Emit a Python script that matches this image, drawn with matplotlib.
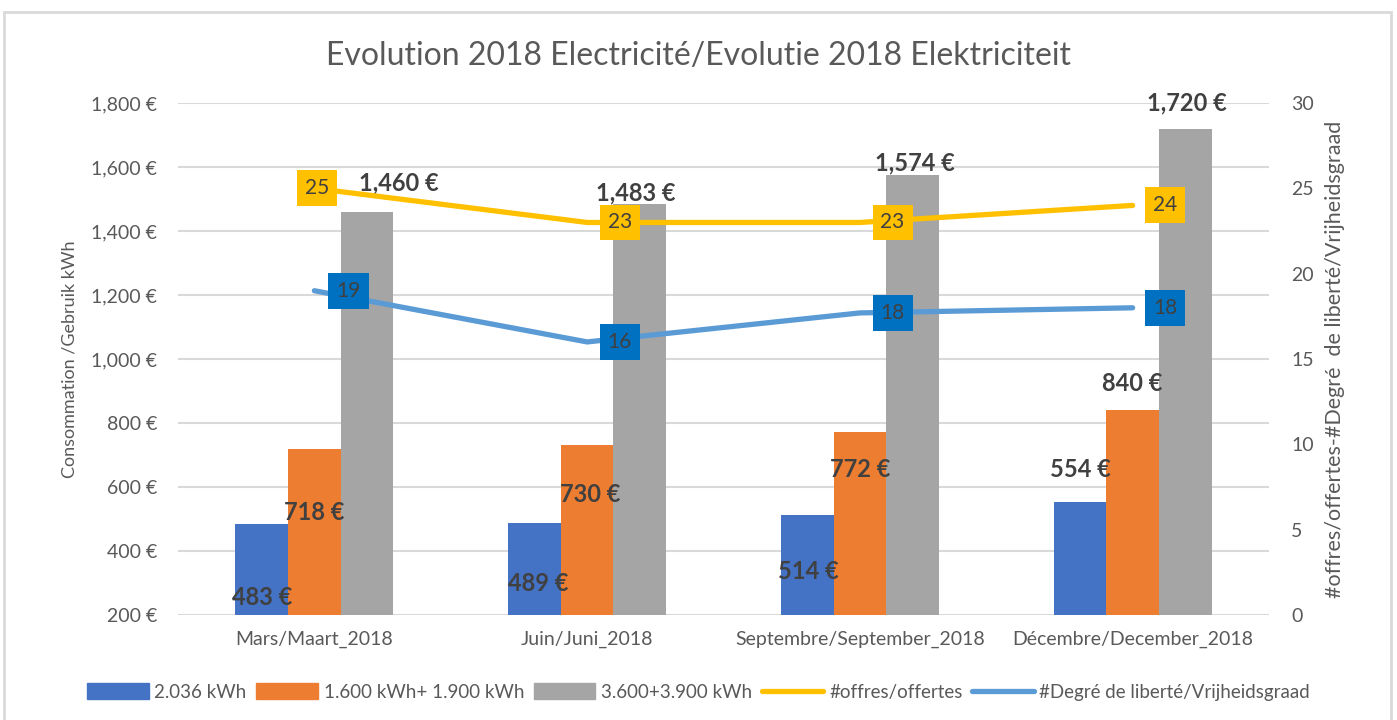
import numpy as np
import matplotlib
matplotlib.use("Agg")
import matplotlib.pyplot as plt
from matplotlib.patches import Rectangle, Patch
from matplotlib.lines import Line2D

plt.rcParams['font.family'] = ['Lato', 'DejaVu Sans']

# data
months = ['Mars/Maart_2018', 'Juin/Juni_2018', 'Septembre/September_2018',
          'Décembre/December_2018']
small = [483, 489, 514, 554]          # 2.036 kWh
medium = [718, 730, 772, 840]         # 1.600 kWh+ 1.900 kWh
large = [1460, 1483, 1574, 1720]      # 3.600+3.900 kWh
offres = [25, 23, 23, 24]             # #offres/offertes
degre = [19, 16, 17.7, 18]            # #Degré de liberté/Vrijheidsgraad

bar_names = ['2.036 kWh', '1.600 kWh+ 1.900 kWh', '3.600+3.900 kWh']
line_names = ['#offres/offertes', '#Degré de liberté/Vrijheidsgraad']

c_blue, c_orange, c_gray = '#4472C4', '#ED7D31', '#A5A5A5'
c_yellow, c_lblue, c_box = '#FFC000', '#5B9BD5', '#0070C0'
txt = '#404040'
tick_c = '#595959'

fig = plt.figure(figsize=(13.97, 7.2), dpi=100)
fig.patches.append(Rectangle((0.003, -0.01), 0.993, 0.9935, transform=fig.transFigure,
                             fill=False, edgecolor='#D9D9D9', lw=2))
ax = fig.add_axes([178 / 1397, 1 - 615 / 720, (1269 - 178) / 1397, (615 - 103) / 720])
ax2 = ax.twinx()

x = np.arange(len(months))
w = 0.193
ax.bar(x - w, small, w, bottom=0, color=c_blue, zorder=2)
ax.bar(x, medium, w, color=c_orange, zorder=2)
ax.bar(x + w, large, w, color=c_gray, zorder=2)

ax.set_ylim(200, 1800)
ax.set_xlim(-0.5, 3.5)
ax.set_yticks(np.arange(200, 1801, 200))
ax.yaxis.set_major_formatter(plt.FuncFormatter(lambda v, p: f'{v:,.0f} €'))
ax.grid(axis='y', color='#D9D9D9', lw=1.5, zorder=0)
ax.set_axisbelow(True)
ax.set_xticks(x)
ax.set_xticklabels(months)
for s in ax.spines.values():
    s.set_visible(False)
for s in ax2.spines.values():
    s.set_visible(False)
ax.tick_params(axis='y', length=0, pad=15, labelsize=14, labelcolor=tick_c)
ax.tick_params(axis='x', length=0, pad=11, labelsize=14, labelcolor=tick_c)
ax.set_ylabel('Consommation /Gebruik kWh', fontsize=13, color=tick_c, labelpad=10)

# bar value labels (x offset from category, y in euro units) as placed in the original
bar_lbl_pos = [
    [(-0.19, 256), (0.0, 519), (0.31, 1550)],
    [(-0.18, 297), (0.01, 578), (0.18, 1519)],
    [(-0.19, 337), (0.0, 656), (0.2, 1612)],
    [(-0.19, 656), (0.0, 922), (0.2, 1800)],
]
for i in range(len(months)):
    for j, vals in enumerate([small, medium, large]):
        dx, yy = bar_lbl_pos[i][j]
        ax.text(i + dx, yy, f'{vals[i]:,} €', ha='center', va='center',
                fontsize=17, fontweight='bold', color=txt, zorder=6)

ax2.set_ylim(0, 30)
ax2.set_yticks(np.arange(0, 31, 5))
ax2.tick_params(axis='y', length=0, pad=16, labelsize=14, labelcolor=tick_c)
ax2.set_ylabel('#offres/offertes-#Degré  de liberté/Vrijheidsgraad', fontsize=15.5,
               color=tick_c, labelpad=8)
ax2.plot(x, offres, color=c_yellow, lw=3.8, solid_capstyle='round', zorder=3)
ax2.plot(x, degre, color=c_lblue, lw=3.8, solid_capstyle='round', zorder=3)

off_dx = [0.01, 0.12, 0.12, 0.12]
deg_dx = [0.125, 0.12, 0.12, 0.12]
for i in range(len(months)):
    ax2.text(i + off_dx[i], offres[i], f'{offres[i]:.0f}', ha='center', va='center',
             fontsize=15, color=txt, zorder=7,
             bbox=dict(boxstyle='square,pad=0.38', fc=c_yellow, ec='none'))
    ax2.text(i + deg_dx[i], degre[i], f'{degre[i]:.0f}', ha='center', va='center',
             fontsize=15, color=txt, zorder=7,
             bbox=dict(boxstyle='square,pad=0.38', fc=c_box, ec='none'))

fig.suptitle('Evolution 2018 Electricité/Evolutie 2018 Elektriciteit', y=1 - 56 / 720,
             va='center', fontsize=23, color=tick_c)

handles = [Patch(color=c) for c in (c_blue, c_orange, c_gray)] + \
          [Line2D([0], [0], color=c, lw=3.8, solid_capstyle='round') for c in (c_yellow, c_lblue)]
fig.legend(handles, bar_names + line_names, loc='center', bbox_to_anchor=(0.5, 1 - 692 / 720),
           ncol=5, frameon=False, fontsize=13.5, handlelength=3.3, handleheight=0.9,
           columnspacing=0.5, handletextpad=0.3, labelcolor=tick_c)

fig.savefig('out.png', dpi=100)
